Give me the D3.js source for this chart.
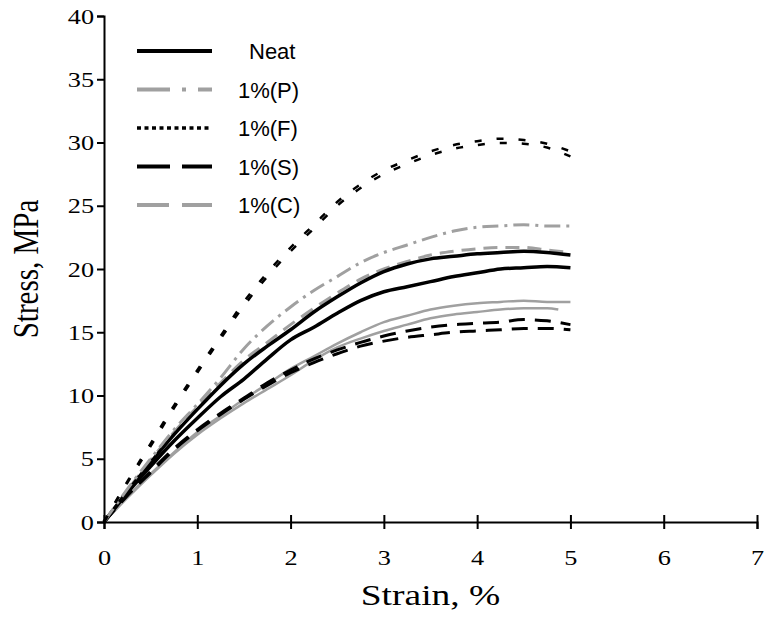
<!DOCTYPE html>
<html>
<head>
<meta charset="utf-8">
<script src="https://cdn.jsdelivr.net/npm/d3@7"></script>
<style>
  body { margin: 0; background: #fff; }
  #svg-container { width: 769px; height: 621px; }
</style>
</head>
<body>
<div id="svg-container"></div>
<script>
// strain (%) grid
var strain = [0, 0.25, 0.5, 0.75, 1, 1.25, 1.5, 1.75, 2, 2.25, 2.5, 2.75, 3, 3.25, 3.5, 3.75, 4, 4.25, 4.5, 4.75, 5];
var strainShort = [0, 0.25, 0.5, 0.75, 1, 1.25, 1.5, 1.75, 2, 2.25, 2.5, 2.75, 3, 3.25, 3.5, 3.75, 4, 4.25, 4.5, 4.75, 4.87];

// stress (MPa)
var neat1 = [0, 2.4, 4.7, 6.9, 8.9, 10.8, 12.5, 13.9, 15.2, 16.6, 17.8, 18.9, 19.8, 20.4, 20.8, 21.0, 21.2, 21.3, 21.4, 21.3, 21.1];
var neat2 = [0, 2.3, 4.4, 6.4, 8.2, 9.9, 11.3, 12.9, 14.4, 15.4, 16.5, 17.5, 18.2, 18.6, 19.0, 19.4, 19.7, 20.0, 20.1, 20.2, 20.1];
var p1 = [0, 2.6, 5.0, 7.3, 9.3, 11.4, 13.7, 15.5, 17.0, 18.3, 19.4, 20.5, 21.3, 21.9, 22.5, 23.0, 23.3, 23.4, 23.5, 23.4, 23.4];
var p2 = [0, 2.0, 3.8, 5.5, 7.1, 8.4, 9.7, 10.9, 12.1, 13.1, 14.1, 15.0, 15.8, 16.3, 16.8, 17.1, 17.3, 17.4, 17.5, 17.4, 17.4];
var f1 = [0, 3.2, 6.2, 9.2, 12.0, 14.7, 17.4, 19.7, 21.7, 23.5, 25.3, 26.7, 27.8, 28.6, 29.3, 29.8, 30.1, 30.3, 30.2, 29.9, 29.3];
var f2 = [0, 3.1, 6.0, 9.0, 11.8, 14.5, 17.1, 19.4, 21.4, 23.2, 25.0, 26.4, 27.5, 28.3, 29.0, 29.5, 29.8, 29.97, 29.9, 29.6, 28.9];
var s1 = [0, 2.1, 4.0, 5.8, 7.3, 8.6, 9.8, 11.0, 12.0, 12.9, 13.6, 14.2, 14.7, 15.1, 15.4, 15.6, 15.7, 15.8, 16.0, 15.9, 15.6];
var s2 = [0, 2.1, 3.9, 5.7, 7.2, 8.5, 9.7, 10.8, 11.8, 12.6, 13.3, 13.9, 14.3, 14.6, 14.8, 15.0, 15.1, 15.2, 15.3, 15.3, 15.2];
var c1 = [0, 2.5, 4.9, 7.1, 9.1, 11.0, 12.8, 14.2, 15.6, 16.9, 18.1, 19.2, 20.0, 20.6, 21.1, 21.4, 21.6, 21.7, 21.7, 21.5, 21.3];
var c2 = [0, 1.9, 3.7, 5.4, 6.9, 8.2, 9.4, 10.5, 11.6, 12.8, 13.8, 14.5, 15.1, 15.6, 16.1, 16.4, 16.6, 16.8, 16.9, 16.9, 16.8];

var legendNames = ["Neat", "1%(P)", "1%(F)", "1%(S)", "1%(C)"];
var xTicks = [0, 1, 2, 3, 4, 5, 6, 7];
var yTicks = [0, 5, 10, 15, 20, 25, 30, 35, 40];

var gray = "#a0a0a0";

// how each kind of curve is drawn
var styles = {
  "Neat":  { color: "black", width: 3.5, dash: null,       legendDash: null,         legendWidth: 4 },
  "1%(P)": { color: gray,    width: 3,   dash: "16,6,3,6", legendDash: "33,12,4,12", legendWidth: 4 },
  "1%(F)": { color: "black", width: 2.5, dash: "7,15",     legendDash: "4,3.5",      legendWidth: 3.5 },
  "1%(S)": { color: "black", width: 3,   dash: "16,10",    legendDash: "33,12",      legendWidth: 4 },
  "1%(C)": { color: gray,    width: 3,   dash: "14,8",     legendDash: "32,13",      legendWidth: 4 },
  "plain": { color: gray,    width: 2.5, dash: null }
};

function zip(xs, ys) {
  return ys.map(function(d, i) { return { strain: xs[i], stress: d }; });
}

// drawing order: bottom first
var curves = [
  { style: "plain", data: zip(strainShort, c2) },
  { style: "plain", data: zip(strain, p2) },
  { style: "1%(S)", data: zip(strain, s2) },
  { style: "1%(S)", data: zip(strain, s1) },
  { style: "Neat",  data: zip(strain, neat2) },
  { style: "1%(C)", data: zip(strain, c1) },
  { style: "Neat",  data: zip(strain, neat1) },
  { style: "1%(P)", data: zip(strain, p1) },
  { style: "1%(F)", data: zip(strain, f2) },
  { style: "1%(F)", data: zip(strain, f1) }
];

var w = 769, h = 621;
var marg = { top: 16, right: 12, bottom: 99, left: 104 };
var stretch = 1.25;
var serif = "'Liberation Serif', 'Times New Roman', serif";

var svg = d3.select("#svg-container").append("svg")
  .attr("width", w)
  .attr("height", h);

var scale_X = d3.scaleLinear().domain([0, 7]).range([marg.left, w - marg.right]);
var scale_Y = d3.scaleLinear().domain([0, 40]).range([h - marg.bottom, marg.top]);

var line = d3.line()
  .x(function(d) { return scale_X(d.strain); })
  .y(function(d) { return scale_Y(d.stress); })
  .curve(d3.curveMonotoneX);

svg.append("g").selectAll("path")
  .data(curves)
  .enter().append("path")
  .attr("d", function(d) { return line(d.data); })
  .attr("fill", "none")
  .attr("stroke", function(d) { return styles[d.style].color; })
  .attr("stroke-width", function(d) { return styles[d.style].width; })
  .attr("stroke-dasharray", function(d) { return styles[d.style].dash; });

// axes
var xAxis = svg.append("g")
  .attr("transform", "translate(0," + scale_Y(0) + ")")
  .call(d3.axisBottom(scale_X).tickValues(xTicks).tickFormat(d3.format("d")).tickSizeOuter(0).tickSize(7));

xAxis.selectAll(".tick line").attr("y1", -7).attr("y2", 7).attr("stroke-width", 2);
xAxis.select(".domain").attr("stroke-width", 2);
xAxis.selectAll(".tick text")
  .attr("x", null).attr("y", null).attr("dy", null)
  .attr("transform", "translate(0,43) scale(" + stretch + ",1)")
  .attr("text-anchor", "middle")
  .style("font-family", serif)
  .style("font-size", "21px")
  .attr("fill", "black");

var yAxis = svg.append("g")
  .attr("transform", "translate(" + scale_X(0) + ",0)")
  .call(d3.axisLeft(scale_Y).tickValues(yTicks).tickFormat(d3.format("d")).tickSizeOuter(0).tickSize(7));

yAxis.selectAll(".tick line").attr("stroke-width", 2);
yAxis.select(".domain").attr("stroke-width", 2);
yAxis.selectAll(".tick text")
  .attr("x", null).attr("dy", null)
  .attr("transform", "translate(-10,7) scale(" + stretch + ",1)")
  .attr("text-anchor", "end")
  .style("font-family", serif)
  .style("font-size", "21px")
  .attr("fill", "black");

// axis titles
svg.append("text")
  .attr("transform", "translate(" + ((scale_X(0) + scale_X(7)) / 2) + ",605) scale(" + stretch + ",1)")
  .attr("text-anchor", "middle")
  .style("font-family", serif)
  .style("font-size", "30px")
  .text("Strain, %");

svg.append("text")
  .attr("transform", "translate(38," + ((scale_Y(0) + scale_Y(40)) / 2) + ") rotate(-90) scale(1," + stretch + ")")
  .attr("text-anchor", "middle")
  .style("font-family", serif)
  .style("font-size", "29px")
  .text("Stress, MPa");

// legend
var legendY = d3.scalePoint().domain(legendNames).range([51, 205]);

var legend = svg.append("g").selectAll("g")
  .data(legendNames)
  .enter().append("g")
  .attr("transform", function(d) { return "translate(0," + legendY(d) + ")"; });

legend.append("line")
  .attr("x1", 137).attr("x2", 212)
  .attr("stroke", function(d) { return styles[d].color; })
  .attr("stroke-width", function(d) { return styles[d].legendWidth; })
  .attr("stroke-dasharray", function(d) { return styles[d].legendDash; });

legend.append("text")
  .attr("x", function(d) { return d === "Neat" ? 249 : 238; })
  .attr("y", 8)
  .style("font-family", "'Liberation Sans', Arial, sans-serif")
  .style("font-size", "22px")
  .text(function(d) { return d; });
</script>
</body>
</html>
